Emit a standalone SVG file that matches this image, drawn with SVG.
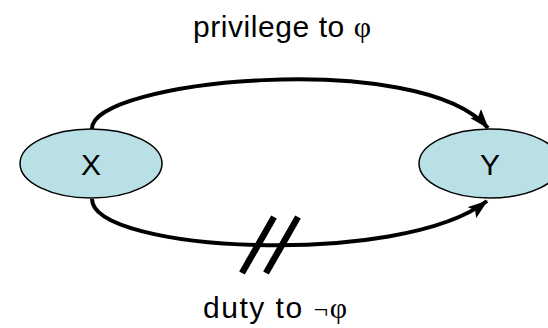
<svg xmlns="http://www.w3.org/2000/svg" width="548" height="328" viewBox="0 0 548 328">
<style>
.node ellipse{fill:#b9e0e4;stroke:#000;stroke-width:1.5}
.lbl{font-family:"Liberation Sans",Arial,sans-serif;font-size:30px;fill:#000}
.sym{font-family:"Liberation Serif","Times New Roman",serif}
.edge{fill:none;stroke:#000;stroke-width:4}
.hash{stroke:#000;stroke-width:6.5;fill:none}
</style>
<defs>
<marker id="ah" markerWidth="20" markerHeight="14" refX="19" refY="7" orient="auto" markerUnits="userSpaceOnUse">
<path d="M0,0 L20,7 L0,14 L4,7 Z" fill="#000"/>
</marker>
</defs>
<g id="connectors">
<path class="edge" d="M92,129 C90,80 420,48 488,128" marker-end="url(#ah)"/>
<path class="edge" d="M92,199 C92,252 400,268 487,201" marker-end="url(#ah)"/>
<line class="hash" x1="242" y1="273" x2="274" y2="217"/>
<line class="hash" x1="266" y1="273" x2="298" y2="217"/>
</g>
<g id="X" class="node">
<ellipse cx="91" cy="163.5" rx="71" ry="34.5"/>
<text class="lbl" x="91" y="175" text-anchor="middle">X</text>
</g>
<g id="Y" class="node">
<ellipse cx="490" cy="163.5" rx="71" ry="34.5"/>
<text class="lbl" x="490" y="175" text-anchor="middle">Y</text>
</g>
<text class="lbl" x="193" y="37" textLength="178" lengthAdjust="spacing">privilege to <tspan class="sym">φ</tspan></text>
<text class="lbl" x="203" y="318" textLength="144" lengthAdjust="spacing">duty to <tspan class="sym" font-size="26">¬</tspan><tspan class="sym">φ</tspan></text>
</svg>
